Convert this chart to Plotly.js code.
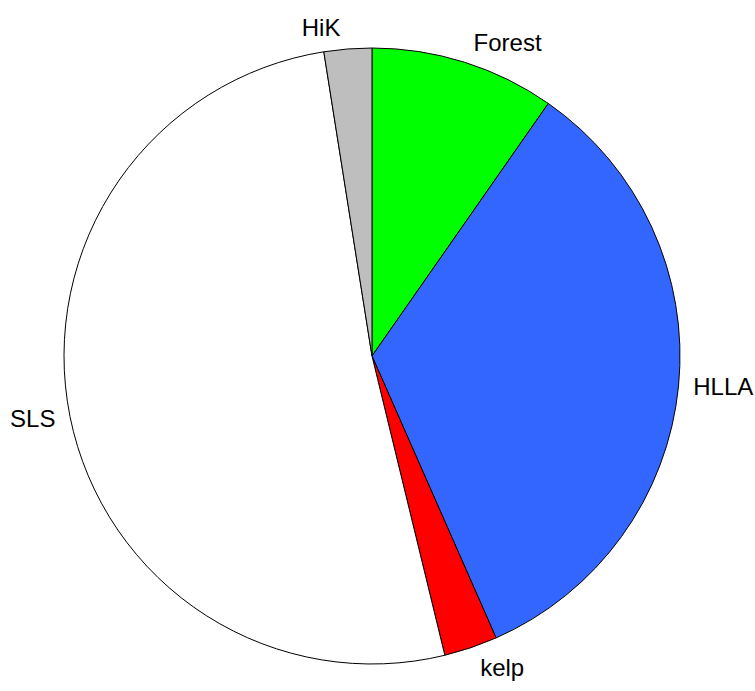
<!DOCTYPE html>
<html>
<head>
<meta charset="utf-8">
<script src="https://cdn.plot.ly/plotly-3.0.1.min.js"></script>
<style>html,body{margin:0;padding:0;background:#fff}#chart{width:755px;height:691px}</style>
</head>
<body>
<div id="chart"></div>
<script>
const categories = ["Forest", "HLLA", "kelp", "SLS", "HiK"];
const values = [9.7, 33.7, 2.8, 51.3, 2.5];
const colors = ["#00FF00", "#3366FF", "#FF0000", "#FFFFFF", "#BEBEBE"];

const W = 755, H = 691, cx = 372, cy = 356, r = 308, rLab = 316;
function dom(rad) {
  return { x: [(cx - rad) / W, (cx + rad) / W], y: [(H - cy - rad) / H, (H - cy + rad) / H] };
}
const pieTrace = {
  type: "pie",
  labels: categories,
  values: values,
  sort: false,
  direction: "clockwise",
  rotation: 0,
  textinfo: "none",
  hoverinfo: "label+value",
  marker: { colors: colors, line: { color: "#000000", width: 1 } },
  domain: dom(r),
  showlegend: false
};
// transparent companion pie, same data, used only for the library's outside label placement
const labelTrace = {
  type: "pie",
  labels: categories,
  values: values,
  sort: false,
  direction: "clockwise",
  rotation: 0,
  textinfo: "label",
  textposition: "outside",
  hoverinfo: "skip",
  marker: { colors: categories.map(() => "rgba(0,0,0,0)"), line: { width: 0 } },
  outsidetextfont: { family: "Liberation Sans, Arial, sans-serif", size: 24, color: "#000000" },
  domain: dom(rLab),
  showlegend: false
};
Plotly.newPlot("chart", [pieTrace, labelTrace], {
  width: W, height: H,
  margin: { l: 0, r: 0, t: 0, b: 0 },
  paper_bgcolor: "#ffffff",
  showlegend: false
}, { staticPlot: true });
</script>
</body>
</html>
